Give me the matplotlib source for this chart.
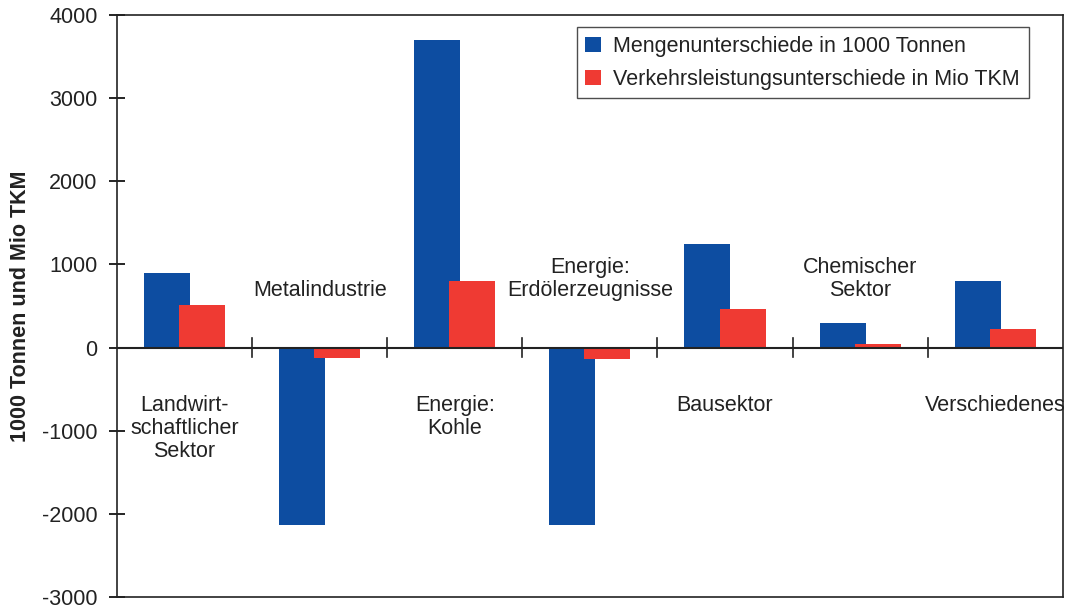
import matplotlib
matplotlib.use("Agg")
import matplotlib.pyplot as plt
import numpy as np

categories = ["Landwirt-\nschaftlicher\nSektor", "Metalindustrie", "Energie:\nKohle",
              "Energie:\nErdölerzeugnisse", "Bausektor", "Chemischer\nSektor", "Verschiedenes"]
mengen = [900, -2130, 3700, -2130, 1240, 290, 800]
verkehr = [510, -120, 800, -140, 460, 40, 220]
label_below = [True, False, True, False, True, False, True]
series_names = ["Mengenunterschiede in 1000 Tonnen", "Verkehrsleistungsunterschiede in Mio TKM"]
yticks = [-3000, -2000, -1000, 0, 1000, 2000, 3000, 4000]

plt.rcParams['font.family'] = ['Liberation Sans', 'DejaVu Sans']

fig = plt.figure(figsize=(10.65, 6.09), dpi=100)
ax = fig.add_axes([0.1099, 0.0197, 0.888, 0.9557])

blue = "#0d4da1"
red = "#ef3a33"
txt = "#222222"
x = np.arange(len(categories))
w = 0.34
ax.bar(x - 0.13, mengen, width=w, color=blue, label=series_names[0], zorder=2)
ax.bar(x + 0.13, verkehr, width=w, color=red, label=series_names[1], zorder=3)

ax.set_xlim(-0.5, len(categories) - 0.5)
ax.set_ylim(-3000, 4000)
ax.set_yticks(yticks)
ax.set_yticklabels([str(v) for v in yticks], fontsize=15.5, color=txt)
ax.tick_params(axis='y', direction='inout', length=12, width=1.2, pad=8)
ax.set_xticks([])
for s in ax.spines.values():
    s.set_linewidth(1.2)
    s.set_color(txt)

# zero line with category boundary ticks
ax.axhline(0, color=txt, lw=1.5, zorder=4)
for b in np.arange(0.5, len(categories) - 1, 1.0):
    ax.plot([b, b], [-110, 110], color=txt, lw=1.2, zorder=4)

for i, (c, below) in enumerate(zip(categories, label_below)):
    if below:
        ax.text(i, -575, c, ha='center', va='top', fontsize=15.5, color=txt,
                linespacing=1.1)
    else:
        ax.text(i, 560, c, ha='center', va='bottom', fontsize=15.5, color=txt,
                linespacing=1.1)

ax.set_ylabel("1000 Tonnen und Mio TKM", fontsize=15.5, fontweight='bold', labelpad=8,
              color=txt)

leg = ax.legend(loc='upper right', bbox_to_anchor=(0.964, 0.979), fontsize=15.5,
                frameon=True, fancybox=False, edgecolor=txt, handlelength=0.7,
                handleheight=0.7, handletextpad=0.6, borderpad=0.4, labelspacing=0.55,
                borderaxespad=0)
leg.get_frame().set_linewidth(1.0)
for t in leg.get_texts():
    t.set_color(txt)

fig.savefig("out.png", dpi=100)
